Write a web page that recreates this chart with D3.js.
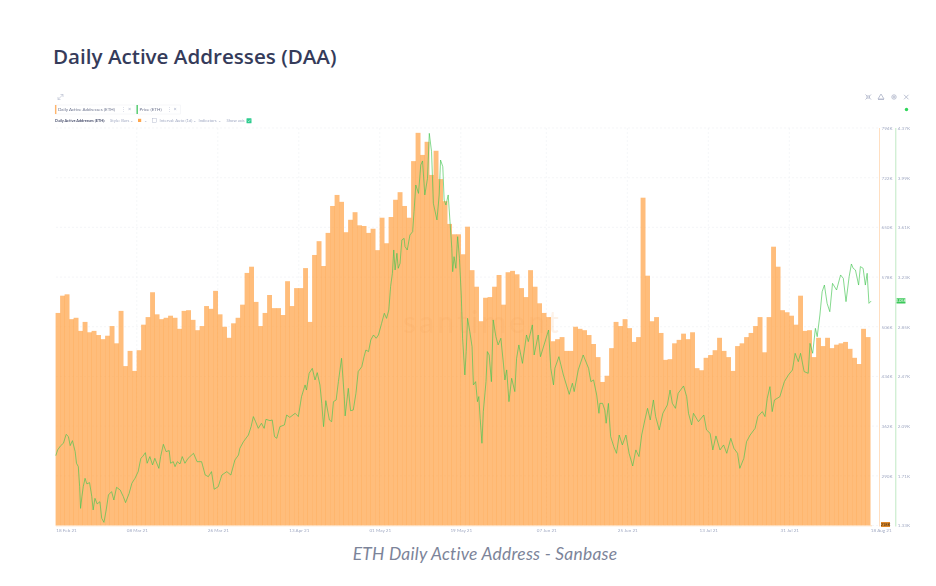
<!DOCTYPE html>
<html><head><meta charset="utf-8">
<script src="https://cdn.jsdelivr.net/npm/d3@7"></script>
<style>
html,body{margin:0;padding:0;background:#fff;width:936px;height:586px;overflow:hidden}
svg{display:block}
text{font-family:Lato,"Open Sans",sans-serif}
</style></head><body>
<svg id="c" width="936" height="586"></svg>
<script>
const chartTitle = "Daily Active Addresses (DAA)";
const chartCaption = "ETH Daily Active Address - Sanbase";
const daaSeriesName = "Daily Active Addresses (ETH)";
const priceSeriesName = "Price (ETH)";
// Daily active addresses, thousands, one value per day from 18 Feb 21 to 18 Aug 21
const daaValues = [526,551,553,517,519,500,513,498,500,494,488,493,507,482,529,449,471,442,472,509,
520,556,524,517,519,522,519,503,529,530,516,501,507,536,532,558,524,506,490,511,
519,538,584,593,542,507,526,552,533,533,523,572,536,562,562,591,513,610,630,594,
642,681,697,687,643,661,672,653,652,642,648,617,664,627,665,690,701,681,664,746,
787,755,774,726,761,720,688,655,640,640,611,651,588,564,514,548,549,564,581,538,
585,587,582,562,549,588,564,540,526,520,485,488,491,471,471,506,503,501,494,481,
462,426,435,475,513,507,517,504,484,491,693,580,514,520,497,458,459,482,487,496,
488,498,446,443,461,465,472,490,471,462,442,478,482,491,497,507,520,469,520,622,
593,530,527,522,509,551,500,501,462,490,478,490,475,480,482,484,474,461,452,503,491];
// Price in USD, read at the day offsets listed in priceDays
const priceDays = [0,.4,1.1,1.7,2.3,2.8,3.2,3.7,4.3,4.6,5,5.3,5.5,5.8,6.1,6.5,6.9,7.5,8,8.3,8.7,9.2,9.8,10.2,10.7,11.2,11.7,12.4,12.9,13.5,14.3,15,15.5,16.3,16.9,17.6,18.3,18.9,19.3,19.9,20.3,20.9,21.5,22,22.9,23.3,23.9,24.5,25.2,25.5,26.1,26.5,27,27.6,28.1,28.7,29.4,30.6,31.4,32.4,33.2,33.9,34.6,35.2,36.1,36.9,38,38.9,39.8,40.6,
40.9,41.7,42.8,43.4,43.9,44.4,45,45.7,46.3,46.7,47.6,48.1,48.6,49.1,49.8,50.8,51.3,52,53.2,53.9,54.6,55.4,55.7,56.3,57,57.6,58.1,58.7,59.1,59.5,60,60.8,61.3,61.7,62.3,62.8,63.5,64.1,64.3,65,65.5,66.1,66.7,67.2,68,68.5,68.9,69.5,70,70.6,71.2,71.7,72.4,73,73.5,74,74.4,74.8,75.1,75.4,75.8,76.1,76.5,
76.9,77.4,77.6,78.1,78.7,79.3,79.6,80,80.6,81.1,81.5,82,82.6,83,83.5,83.9,84.7,85.2,85.5,86,86.3,86.7,87.2,87.6,88,88.2,88.5,88.9,89.3,89.7,90.1,90.4,90.9,91.2,91.5,92,92.5,92.8,93.3,93.7,94,94.3,94.7,95,95.6,95.9,96.3,96.8,97.2,97.8,98.3,98.9,99.5,99.8,100.2,100.7,101.3,102,102.4,102.9,103.7,104.6,105,105.9,106.3,107.2,107.7,108.5,109.5,110,110.6,110.9,111.8,112.8,114.1,114.8,115.2,116.1,117.2,118.4,118.9,119.5,120.2,120.7,
120.9,121.5,122,122.3,122.8,123.3,124,124.6,125.2,125.9,126.7,127.4,128.2,128.9,129.6,130.2,130.9,131.5,132.1,132.8,133.3,134.1,134.9,135.9,136.5,137,137.7,138.3,139.5,140.2,140.6,141.3,141.7,142.8,144,144.6,145.4,146,146.7,147.6,148.4,149.1,150,150.7,151.5,152,152.9,153.5,154.3,155.4,156,157,157.6,158.1,158.7,159.2,159.7,160.9,161.9,162.8,163.7,164.3,165,165.5,166.3,167.2,167.6,168.2,168.8,169.2,169.8,170.3,170.8,171.4,172,172.6,173.5,174.4,175,175.6,176.3,176.8,177.2,177.7,178.4,178.8,179.4,179.9,180.3,180.7,181.2];
const priceValues = [1864,1908,1941,1959,2027,2010,1941,1979,1895,1806,1780,1627,1461,1551,1627,1691,1648,1658,1551,1449,1538,1495,1512,1385,1354,1449,1564,1589,1525,1622,1602,1551,1505,1576,1653,1691,1742,1844,1857,1887,1806,1857,1793,1844,1767,1857,1951,1895,1903,1806,1818,1780,1818,1801,1857,1806,1844,1882,1818,1818,1716,1704,1742,1607,1627,1716,1742,1716,1831,1869,
1920,1971,2022,2086,2163,2124,2073,2112,2073,2142,2132,2137,2010,1997,2086,2099,2175,2157,2188,2163,2315,2405,2366,2494,2532,2443,2499,2405,2265,2086,2285,2137,2124,2277,2290,2430,2609,2315,2168,2379,2208,2213,2341,2507,2545,2621,2672,2660,2749,2787,2762,2787,2876,2953,2914,2978,3157,3259,3437,3284,3412,3297,3335,
3514,3526,3463,3437,3552,3577,3730,3934,3870,4087,4118,3858,3985,4329,4189,3794,3667,3858,4125,4074,3819,3781,3858,3654,3450,3271,3386,3297,3539,3373,3093,2762,2481,2660,2915,2813,2698,2405,2430,2277,2316,2150,1959,2201,2430,2660,2634,2430,2902,2774,2711,2762,2558,2443,2520,2277,2456,2354,2609,2711,2570,2787,2736,2864,2634,2787,2621,2711,2825,2532,2405,2532,2621,2481,2333,2418,2354,2520,2634,2532,2430,2443,2328,2188,
2264,2264,2213,2112,2264,2010,1933,1882,2022,1946,2022,1882,1785,1908,1857,2022,2137,2226,2137,2290,2163,2061,2188,2252,2366,2265,2226,2341,2397,2315,2188,2099,2188,2124,2175,2061,2035,1908,2015,1908,1946,1882,1997,1920,1882,1767,1844,1971,2022,2073,2163,2201,2163,2303,2392,2201,2290,2315,2430,2481,2519,2647,2583,2647,2507,2494,2723,2647,2838,2774,2940,3118,3169,3029,2965,3182,3131,3246,3220,3042,3233,3330,3297,3284,3169,3310,3297,3169,3259,3029,3047];
const xTickDays = [0,18,36,54,72,90,109,127,145,163,181];
const xTickLabels = ["18 Feb 21","08 Mar 21","26 Mar 21","13 Apr 21","01 May 21","19 May 21","07 Jun 21","25 Jun 21","13 Jul 21","31 Jul 21","18 Aug 21"];
const daaTicks = [290,362,434,506,578,650,722,794];
const priceTicks = [1330,1710,2090,2470,2850,3230,3610,3990,4370];
const lastPriceLabel = "3.05K";
const minDaaLabel = "218K";

const svg = d3.select("#c");
const L=55.8,R=870.3,T=128,B=525.5;
const xBand = d3.scaleBand().domain(d3.range(daaValues.length)).range([L,R]).padding(0);
const xDay = d3.scaleLinear().domain([0,daaValues.length]).range([L,R]);
const yDaa = d3.scaleLinear().domain([218,794]).range([B,T]);
const yPrice = d3.scaleLinear().domain([1330,4370]).range([B,T]);
const muted="#a3abc4";

// title & caption
svg.append("text").text(chartTitle).attr("x",53).attr("y",64).attr("font-size",20.6).attr("font-weight",600).attr("fill","#353b5a").style("font-family","'Open Sans',sans-serif");
svg.append("text").text(chartCaption).attr("x",485).attr("y",560).attr("text-anchor","middle").attr("font-size",17.4).attr("font-style","italic").attr("fill","#7c8499").attr("letter-spacing",0.25);

const chart = svg.append("g").attr("id","chart").style("filter","blur(0.3px)");

// grid
const grid = chart.append("g").attr("stroke","#eef0f4").attr("stroke-width",.6).attr("stroke-dasharray","2 2");
grid.selectAll(".h").data(priceTicks).join("line").attr("class","h").attr("x1",56).attr("x2",879).attr("y1",d=>yPrice(d)).attr("y2",d=>yPrice(d));
grid.selectAll(".v").data(xTickDays.slice(1,-1)).join("line").attr("class","v").attr("x1",d=>xDay(d)).attr("x2",d=>xDay(d)).attr("y1",T).attr("y2",B);

// bars
chart.append("g").selectAll("rect").data(daaValues).join("rect")
 .attr("x",(d,i)=>xBand(i)-.2).attr("width",xBand.bandwidth()+.4)
 .attr("y",d=>yDaa(d)).attr("height",d=>B-yDaa(d))
 .attr("fill","#ffa64d").attr("fill-opacity",.74);
chart.append("line").attr("x1",L).attr("x2",872).attr("y1",B+.3).attr("y2",B+.3).attr("stroke","#ffdcb8").attr("stroke-width",1);

// watermark
chart.append("text").text("santiment").attr("x",403).attr("y",333).attr("font-size",30).attr("fill","#f09a50").attr("opacity",.13).attr("letter-spacing",3.2);

// price line
const line = d3.line().x((d,i)=>xDay(priceDays[i])).y(d=>yPrice(d));
chart.append("path").datum(priceValues).attr("d",line).attr("fill","none").attr("stroke","#42c450").attr("stroke-width",.65).attr("stroke-linejoin","round");

// axes
function styleAxis(g){g.select(".domain").remove();g.selectAll(".tick line").remove();g.selectAll("text").attr("fill",muted).attr("font-size",4.6).attr("font-family","Lato,sans-serif");}
chart.append("line").attr("x1",879.5).attr("x2",879.5).attr("y1",T).attr("y2",B+1).attr("stroke","#ffdfc2").attr("stroke-width",1);
chart.append("line").attr("x1",895.8).attr("x2",895.8).attr("y1",T).attr("y2",B+1).attr("stroke","#bfe9c4").attr("stroke-width",1);
chart.append("g").attr("transform","translate(879.5,0)")
 .call(d3.axisRight(yDaa).tickValues(daaTicks).tickSize(0).tickPadding(2).tickFormat(d=>d+"K")).call(styleAxis);
chart.append("g").attr("transform","translate(895.8,0)")
 .call(d3.axisRight(yPrice).tickValues(priceTicks).tickSize(0).tickPadding(2).tickFormat(d=>(d/1000).toFixed(2)+"K")).call(styleAxis);
const xa = chart.append("g").attr("transform",`translate(0,${B})`)
 .call(d3.axisBottom(xDay).tickValues(xTickDays).tickSize(0).tickPadding(3.5).tickFormat((d,i)=>xTickLabels[i])).call(styleAxis);
xa.selectAll(".tick text").attr("text-anchor",(d,i)=>(i==0||i==xTickDays.length-1)?"start":"middle");

// value tags
const lastPrice = priceValues[priceValues.length-1];
chart.append("rect").attr("x",896.5).attr("y",yPrice(lastPrice)-2.8).attr("width",9).attr("height",5.4).attr("rx",.6).attr("fill","#3cc95a");
chart.append("text").text(lastPriceLabel).attr("x",901).attr("y",yPrice(lastPrice)+1.4).attr("text-anchor","middle").attr("font-size",4.2).attr("fill","#fff");
chart.append("rect").attr("x",881).attr("y",B-3.5).attr("width",9).attr("height",5).attr("fill","#e08a2c");
chart.append("text").text(minDaaLabel).attr("x",885.5).attr("y",B+.6).attr("text-anchor","middle").attr("font-size",4).attr("fill","#3c2a10");

// legend chips
const head = chart.append("g");
function chip(x,w,color,label){
 head.append("rect").attr("x",x).attr("y",105).attr("width",w).attr("height",9).attr("fill","#fff").attr("stroke","#eef0f4").attr("stroke-width",.5);
 head.append("rect").attr("x",x).attr("y",105).attr("width",1.4).attr("height",9).attr("fill",color);
 head.append("text").text(label).attr("x",x+3).attr("y",110.9).attr("font-size",4.5).attr("fill","#6f7690");
 head.append("text").text("×").attr("x",x+w-7).attr("y",111.4).attr("font-size",5.5).attr("fill",muted);
 head.append("text").text("⋮").attr("x",x+w-14).attr("y",111.2).attr("font-size",4.5).attr("fill","#c5cadb");
}
chip(55,80,"#ffb56b",daaSeriesName);
chip(136.5,44,"#4fcb6b",priceSeriesName);
const row=(s,x,opt={})=>head.append("text").text(s).attr("x",x).attr("y",122).attr("font-size",opt.s||4.2).attr("fill",opt.c||muted).attr("font-weight",opt.w||400);
row(daaSeriesName+":",55,{c:"#4d5370",w:700,s:3.85});
row("Style: Bars  ⌄",110);
head.append("rect").attr("x",138).attr("y",118.8).attr("width",3.2).attr("height",3.2).attr("fill","#ffa64d");
row("⌄",144);
head.append("rect").attr("x",152.5).attr("y",118.4).attr("width",4).attr("height",4).attr("fill","none").attr("stroke",muted).attr("stroke-width",.4);
row("Interval: Auto (1d)  ⌄",159.5);
row("Indicators  ⌄",198.5);
row("Show axis",226.5);
head.append("rect").attr("x",246.5).attr("y",118.2).attr("width",5).attr("height",5).attr("rx",.5).attr("fill","#2ecc8f");
head.append("path").attr("d","M247.8 120.8l1 1 1.6-2").attr("fill","none").attr("stroke","#fff").attr("stroke-width",.5);

// toolbar icons
const ic = chart.append("g").attr("stroke","#b4bacd").attr("stroke-width",.9).attr("fill","none");
ic.append("path").attr("d","M58 99.5l5-5M60.5 94.5h2.5v2.5M58 97v2.5h2.5").attr("stroke-width",.6);
ic.append("path").attr("d","M865.5 94.5l1.5 1.5h2.5l1.5-1.5M865.5 99.5l1.5-1.5h2.5l1.5 1.5M867 96v2M869.5 96v2");
ic.append("path").attr("d","M881 94l-3 5h6zM878 99.5h6");
ic.append("circle").attr("cx",894).attr("cy",97).attr("r",2.2);
ic.append("circle").attr("cx",894).attr("cy",97).attr("r",.8);
ic.append("path").attr("d","M904 94.8l4.5 4.5M908.5 94.8l-4.5 4.5");
chart.append("circle").attr("cx",906.5).attr("cy",109.5).attr("r",1.7).attr("fill","#2fd65a");
</script></body></html>
